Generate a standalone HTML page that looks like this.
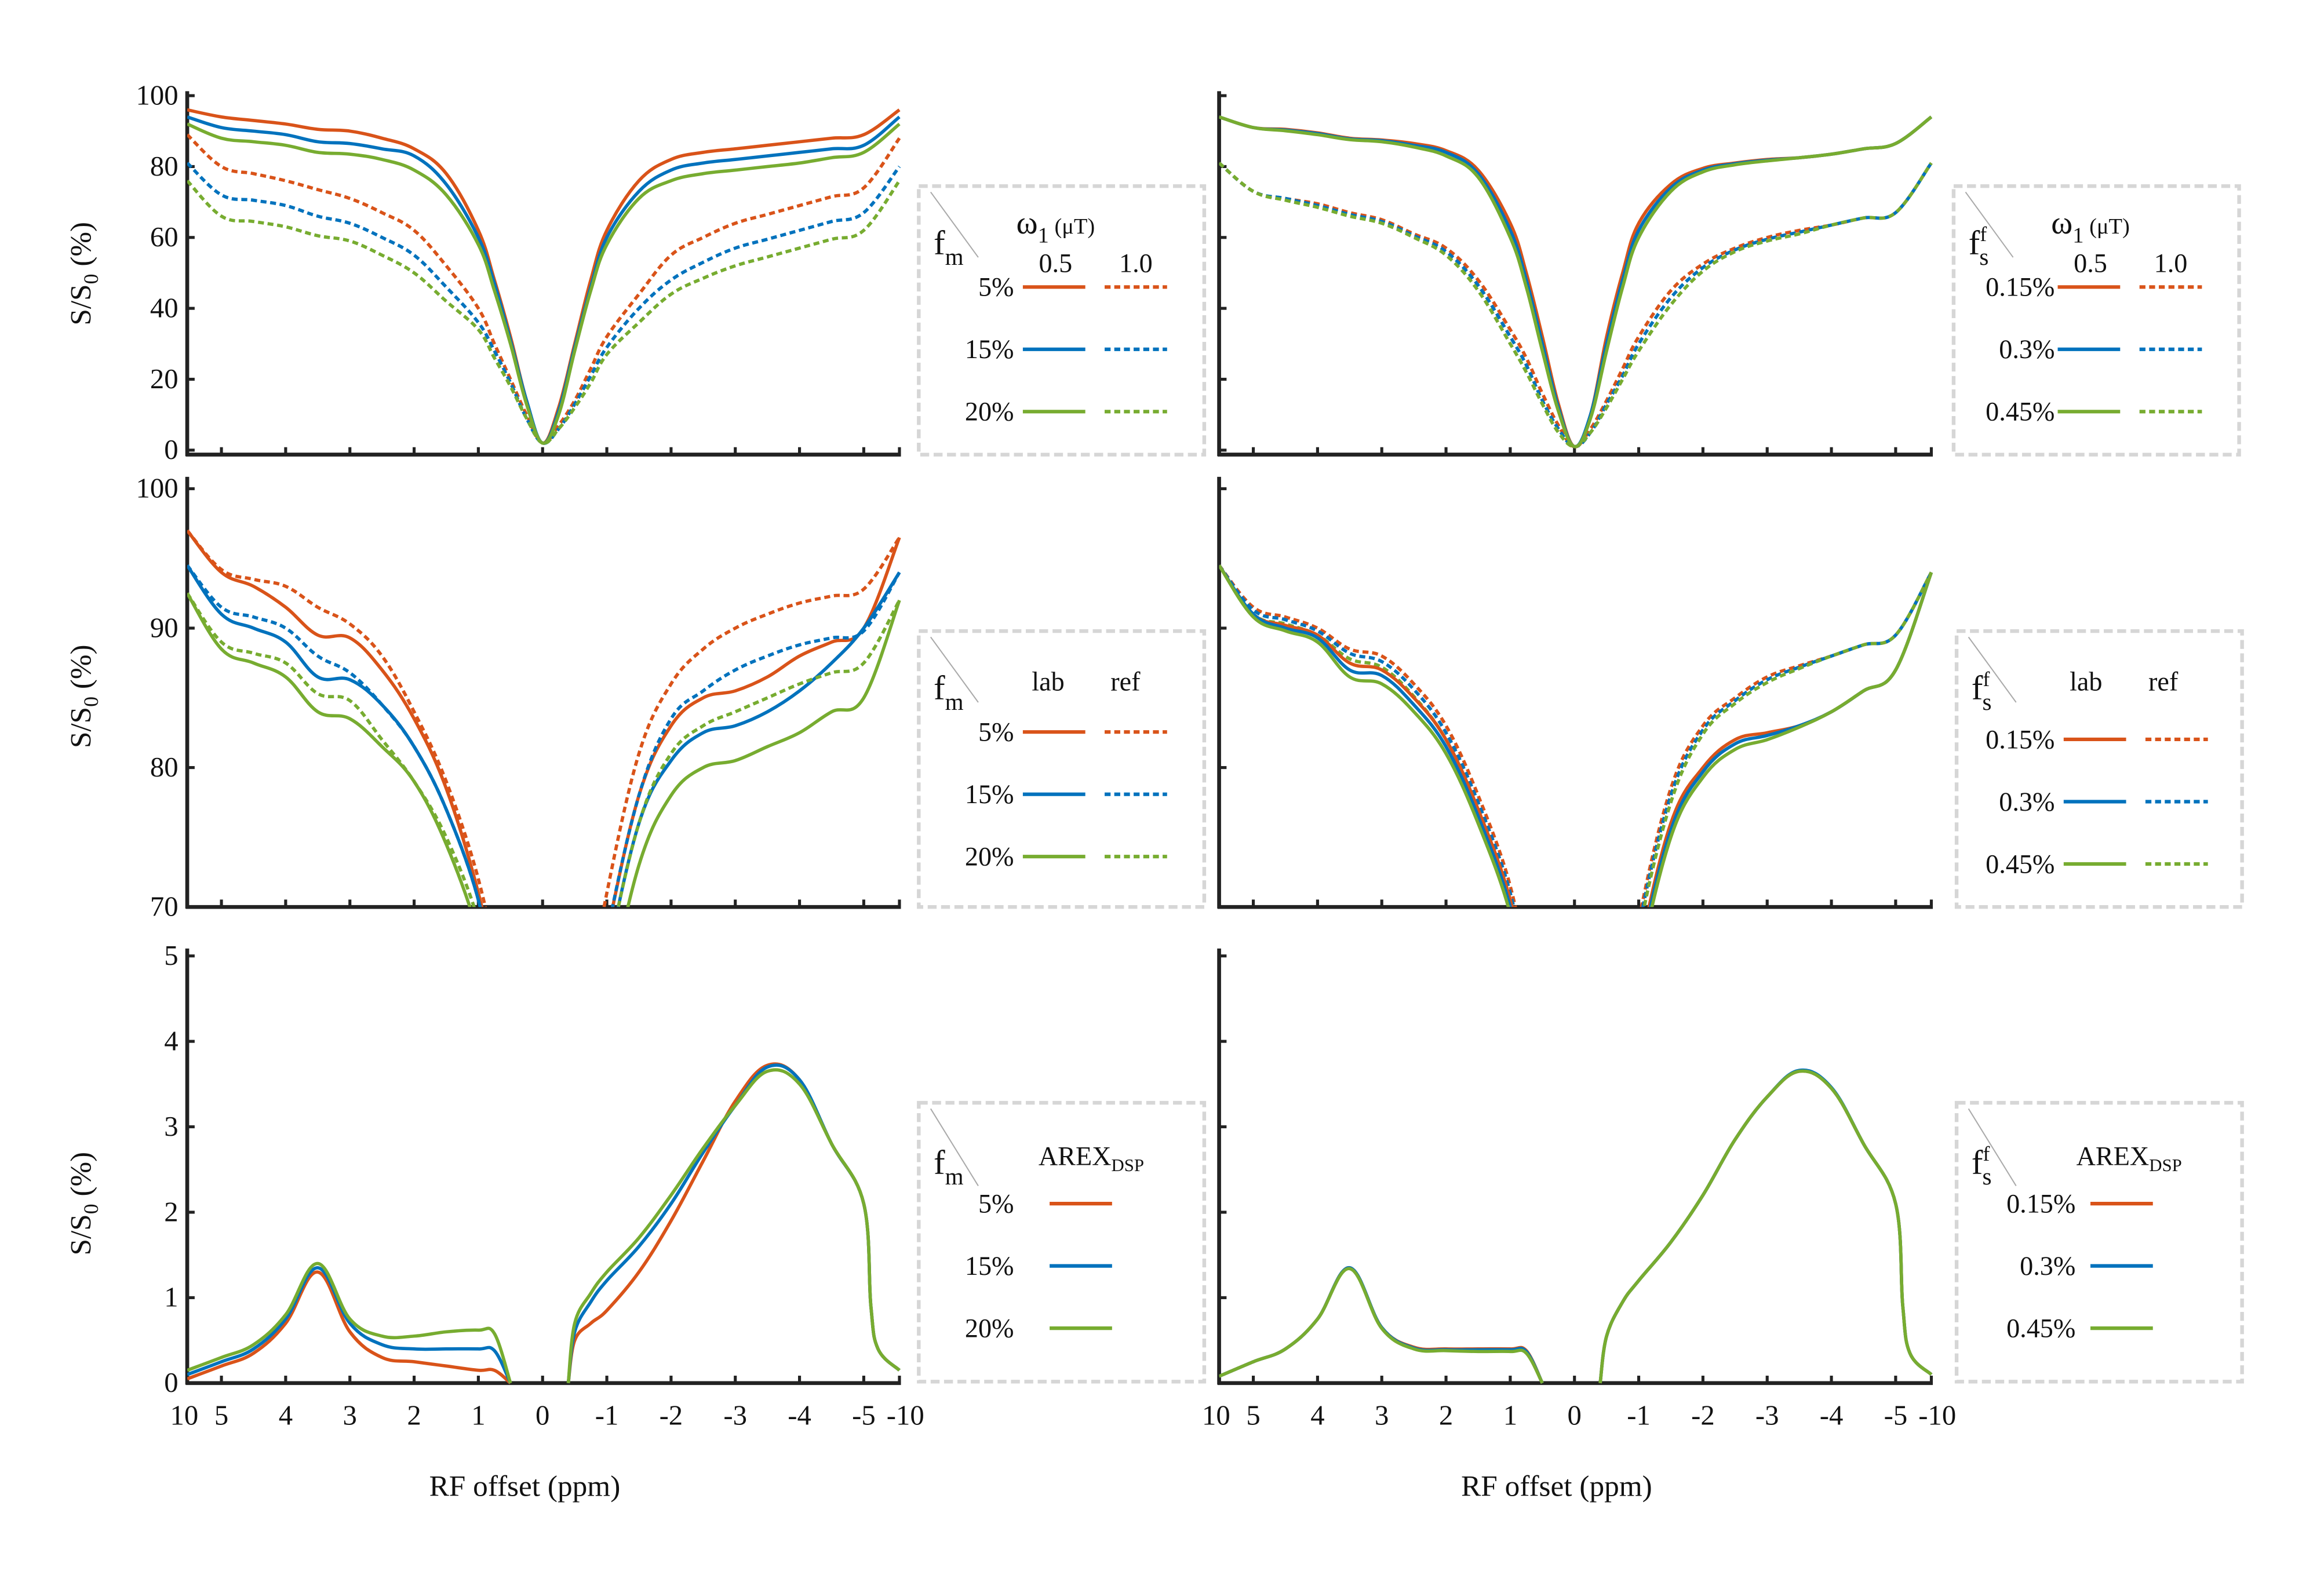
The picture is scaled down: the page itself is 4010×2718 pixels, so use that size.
<!DOCTYPE html>
<html><head><meta charset="utf-8"><style>
html,body{margin:0;padding:0;background:#fff;}
svg{display:block;}
text{font-family:"Liberation Serif",serif;fill:#111;}
</style></head><body>
<svg id="fig" xmlns="http://www.w3.org/2000/svg" width="4010" height="2718" viewBox="0 0 1552 1052">
<defs>
<clipPath id="c0"><rect x="128" y="55" width="480" height="253"/></clipPath>
<clipPath id="c1"><rect x="128" y="322" width="480" height="290"/></clipPath>
<clipPath id="c2"><rect x="128" y="630" width="480" height="304"/></clipPath>
<clipPath id="c3"><rect x="822" y="55" width="480" height="253"/></clipPath>
<clipPath id="c4"><rect x="822" y="322" width="480" height="290"/></clipPath>
<clipPath id="c5"><rect x="822" y="630" width="480" height="304"/></clipPath>
</defs>
<g id="root" transform="translate(-2.1,-0.5) scale(0.993,0.9907)"></g>
</svg>
<script>
const ppm=[10,5,4.5,4,3.5,3,2.5,2,1.5,1,0.75,0.5,0.25,0,-0.25,-0.5,-0.75,-1,-1.5,-2,-2.5,-3,-3.5,-4,-4.5,-5,-10];
const ppmArex=[10,5,4.5,4,3.5,3,2.5,2,1.5,1,0.75,0.5,-0.4,-0.5,-0.75,-1,-1.5,-2,-2.5,-3,-3.5,-4,-4.5,-5,-6,-7,-10];
const xTickVals=[10,5,4,3,2,1,0,-1,-2,-3,-4,-5,-10];
const xTickLabels=["10","5","4","3","2","1","0","-1","-2","-3","-4","-5","-10"];
// top-left
const tlOS=[96,94,93,92,90.5,90,88,85,78,62,48,32,14,2,12,30,48,62,76,82,84,85,86,87,88,89,96];
const tlOD=[89,80,78,76,73.5,71,67,62,52,40,30,20,10,2,7,14,23,32,44,55,60,64,66.5,69,71.5,74,88];
const tlBS=[94,91,90,89,87,86.5,85,83,75,60,47,31,14,2,11,29,46,60,73,79,81,82,83,84,85,86,94];
const tlBD=[81,72,70.5,69,66,64,60,55,46,36,28,19,9,2,6,13,21,29,40,48,53,57,59.5,62,64.5,67,80];
const tlGS=[92,88,87,86,84,83.5,82,79,72,58,45,30,13,2,10,28,45,58,71,76,78,79,80,81,82.5,84,92];
const tlGD=[76,66,64.5,63,60.5,59,55,50,42,34,26,18,9,2,6,12,19,27,36,44,48.5,52,54.5,57,59.5,62,76];
// top-right
const trOS=[94,91,90.5,89.5,88,87.5,86.5,84.5,79,64,50,32,13,1,10,32,50,64,75,79.5,81,82,82.5,83.5,85,86.5,94];
const trBS=[94,91,90.3,89.3,87.8,87.3,86,84,78,62,48,30,12,1,10,30,48,62,74,79,80.8,81.8,82.5,83.5,85,86.5,94];
const trGS=[94,91,90.1,89,87.6,87,85.5,83,77,60,46,28,11,1,9,28,46,60,73,78.5,80.5,81.6,82.5,83.5,85,86.5,94];
const trOD=[81,73,71,69.5,67,65,61,57,48,34,26,16,7,1,6,14,23,32,45,52.5,57,60,62,63.5,65.5,67,81];
const trBD=[81,73,71,69,66.5,64.5,60.5,56,46.5,32,24,14,6,1,5,13,21,30,43,51.5,56.5,59.5,61.5,63.5,65.5,67,81];
const trGD=[81,73,70.5,68.5,66,64,60,55,45,30,22,13,5,1,5,12,20,28,41,50.5,56,59,61,63.5,65.5,67,81];
// middle-left
const mlOS=[97,94,93,91.5,89.5,89.3,87,83.5,78.5,71,65,55,45,40,45,55,62,68,78,83,85,85.5,86.5,88,89,90,96.5];
const mlOD=[97,94.2,93.5,93,91.5,90.3,88,84,79,72,66,56,45,40,45,56,64,71,81,86,88.5,90,91,91.8,92.3,92.8,96.5];
const mlBS=[94.5,91,90,89,86.5,86.3,84.5,81.5,77,70.5,64,54,44,40,44,52,59,66,76,80.5,82.5,83,84,85.5,87.5,90,94];
const mlBD=[94.5,91.5,90.8,90,88,86.8,84.5,81.5,77,70.5,64,54,44,40,44,54,61,68,78,83.5,85.5,87,88,88.8,89.3,89.8,94];
const mlGS=[92.5,88.5,87.5,86.5,84,83.5,81.5,79,74.5,68,62,52,43,40,43,50,57,63,73,78,80,80.5,81.5,82.5,84,85,92];
const mlGD=[92.5,89,88.2,87.5,85.3,84.8,82,79,75,69,63,53,44,40,44,52,59,66,76,81,83,84,85,86,86.8,87.5,92];
// middle-right
const mrOS=[94.5,91,90.2,89.5,87.5,87,85,82,77,70.5,64,54,44,40,44,52,59,66.5,76,80,82,82.5,83,84,85.5,87,94];
const mrBS=[94.5,91,90,89.3,87,86.6,84.5,81.5,76.5,70,63.5,53,44,40,44,51,58,66,75.5,79.7,81.7,82.3,83,84,85.5,87,94];
const mrGS=[94.5,90.8,89.8,89,86.5,86,84,81,76,69.5,63,52,43,40,43,50,57,65.5,75,79.3,81.3,82,82.9,84,85.5,87,94];
const mrOD=[94.5,91.5,90.8,90,88.5,88,86,83,78,71.5,65,55,45,40,45,53,61,69,78.5,83,85,86.5,87.3,88,88.8,89.5,94];
const mrBD=[94.5,91.3,90.6,89.8,88.2,87.6,85.6,82.5,77.5,71,64.5,54,44,40,44,52,60,68.5,78,82.7,84.8,86.3,87.2,88,88.8,89.5,94];
const mrGD=[94.5,91,90.3,89.5,87.8,87.2,85.1,82,77,70.5,64,53,44,40,44,51,59,68,77.5,82.4,84.6,86.1,87.1,88,88.8,89.5,94];
// bottom AREX
const blO=[0.05,0.2,0.35,0.7,1.3,0.6,0.3,0.25,0.2,0.15,0.15,0,0,0.5,0.7,0.85,1.3,1.9,2.6,3.3,3.72,3.55,2.8,2.1,0.9,0.4,0.15];
const blB=[0.1,0.25,0.4,0.75,1.35,0.7,0.45,0.4,0.4,0.4,0.38,0,0,0.6,0.95,1.2,1.6,2.1,2.7,3.25,3.7,3.55,2.8,2.1,0.9,0.4,0.15];
const blG=[0.15,0.3,0.45,0.8,1.4,0.75,0.55,0.55,0.6,0.62,0.58,0,0,0.7,1.05,1.3,1.7,2.2,2.75,3.25,3.65,3.5,2.8,2.1,0.9,0.4,0.15];
const brO=[0.08,0.25,0.4,0.75,1.35,0.65,0.42,0.4,0.4,0.4,0.38,0,0,0.55,0.95,1.2,1.65,2.2,2.85,3.35,3.65,3.45,2.8,2.1,0.9,0.35,0.1];
const brB=[0.08,0.25,0.4,0.75,1.35,0.65,0.41,0.39,0.39,0.39,0.37,0,0,0.55,0.95,1.2,1.65,2.2,2.85,3.35,3.66,3.46,2.8,2.1,0.9,0.35,0.1];
const brG=[0.08,0.25,0.4,0.75,1.34,0.64,0.4,0.38,0.37,0.37,0.35,0,0,0.55,0.95,1.2,1.65,2.2,2.85,3.35,3.65,3.45,2.8,2.1,0.9,0.35,0.1];

const NS='http://www.w3.org/2000/svg';
const root=document.getElementById('root');
const C={o:'#d95319',b:'#0072bd',g:'#77ac30'};
function mk(tag,attrs,parent){const e=document.createElementNS(NS,tag);for(const k in attrs)e.setAttribute(k,attrs[k]);(parent||root).appendChild(e);return e;}
function xScale(p,x0){
  let X;
  if(p>5) X=151-(p-5)/5*23;
  else if(p<-5) X=583+(-5-p)/5*24;
  else X=367-p*43.2;
  return X-128+x0;
}
function yScale(v,vmin,vmax,ytop,ybot){return ybot-(v-vmin)/(vmax-vmin)*(ybot-ytop);}
function smooth(pts){
  let d='M'+pts[0][0].toFixed(2)+','+pts[0][1].toFixed(2);
  for(let i=0;i<pts.length-1;i++){
    const p0=pts[Math.max(0,i-1)],p1=pts[i],p2=pts[i+1],p3=pts[Math.min(pts.length-1,i+2)];
    const t=0.18;
    const c1=[p1[0]+(p2[0]-p0[0])*t,p1[1]+(p2[1]-p0[1])*t];
    const c2=[p2[0]-(p3[0]-p1[0])*t,p2[1]-(p3[1]-p1[1])*t];
    d+=' C'+c1[0].toFixed(2)+','+c1[1].toFixed(2)+' '+c2[0].toFixed(2)+','+c2[1].toFixed(2)+' '+p2[0].toFixed(2)+','+p2[1].toFixed(2);
  }
  return d;
}
const panels=[
 {x0:128,ytop:62,ybot:307,vmin:0,vmax:100,yt0:304,yt1:65,ticks:[0,20,40,60,80,100],lab:true,clip:'c0',name:'top-left'},
 {x0:128,ytop:322,ybot:612,vmin:70,vmax:100,yt0:612,yt1:330,ticks:[70,80,90,100],lab:true,clip:'c1',name:'middle-left'},
 {x0:128,ytop:640,ybot:933,vmin:0,vmax:5,yt0:933,yt1:645,ticks:[0,1,2,3,4,5],lab:true,clip:'c2',name:'bottom-left'},
 {x0:822,ytop:62,ybot:307,vmin:0,vmax:100,yt0:304,yt1:65,ticks:[0,20,40,60,80,100],lab:false,clip:'c3',name:'top-right'},
 {x0:822,ytop:322,ybot:612,vmin:70,vmax:100,yt0:612,yt1:330,ticks:[70,80,90,100],lab:false,clip:'c4',name:'middle-right'},
 {x0:822,ytop:640,ybot:933,vmin:0,vmax:5,yt0:933,yt1:645,ticks:[0,1,2,3,4,5],lab:false,clip:'c5',name:'bottom-right'}
];
function vy(P,v){return yScale(v,P.vmin,P.vmax,P.yt1,P.yt0);}
function series(P,xs,vals,color,dash,name){
  const g=mk('g',{'clip-path':'url(#'+P.clip+')'});
  let segs=[[]];
  for(let i=0;i<xs.length;i++){
    if(i>0 && xs===ppmArex && xs[i-1]>0 && xs[i]<0) segs.push([]);
    segs[segs.length-1].push([xScale(xs[i],P.x0),vy(P,vals[i])]);
  }
  segs.forEach(s=>{
    const e=mk('path',{d:smooth(s),fill:'none',stroke:color,'stroke-width':2.2,'stroke-dasharray':dash?'4,2.5':'none'},g);
    
    
  });
}
panels.forEach(P=>{
  const g=mk('g',{});
  
  
  mk('line',{x1:P.x0,y1:P.ytop,x2:P.x0,y2:P.ybot+1,stroke:'#222','stroke-width':2.6},g);
  mk('line',{x1:P.x0-1,y1:P.ybot,x2:P.x0+480,y2:P.ybot,stroke:'#222','stroke-width':2.6},g);
  P.ticks.forEach(t=>{
    const y=vy(P,t);
    mk('line',{x1:P.x0,y1:y,x2:P.x0+5,y2:y,stroke:'#222','stroke-width':2},g);
    if(P.lab){const tx=mk('text',{x:P.x0-6,y:y+6,'font-size':19,'text-anchor':'end'},g);tx.textContent=String(t);
      }
  });
  xTickVals.forEach(p=>{
    const x=xScale(p,P.x0);
    mk('line',{x1:x,y1:P.ybot,x2:x,y2:P.ybot-5,stroke:'#222','stroke-width':2},g);
  });
});
[128,822].forEach(x0=>{
  xTickVals.forEach((p,i)=>{
    const t=mk('text',{x:xScale(p,x0)+(p===10?-2:(p===-10?4:0)),y:961,'font-size':19,'text-anchor':'middle'});
    t.textContent=xTickLabels[i];
    
    
  });
  const xl=mk('text',{x:x0+227,y:1009,'font-size':20,'text-anchor':'middle'});
  xl.textContent='RF offset (ppm)';
  
  
});
[[185],[470],[812]].forEach(([cy])=>{
  const t=mk('text',{x:0,y:0,'font-size':20,'text-anchor':'middle',transform:'translate(63,'+cy+') rotate(-90)'});
  t.innerHTML='S/S<tspan font-size="14" dy="5">0</tspan><tspan dy="-5"> (%)</tspan>';
  
  
});
const P=panels;
series(P[0],ppm,tlOS,C.o,false,'line-5pct-0.5');series(P[0],ppm,tlOD,C.o,true,'line-5pct-1.0');
series(P[0],ppm,tlBS,C.b,false,'line-15pct-0.5');series(P[0],ppm,tlBD,C.b,true,'line-15pct-1.0');
series(P[0],ppm,tlGS,C.g,false,'line-20pct-0.5');series(P[0],ppm,tlGD,C.g,true,'line-20pct-1.0');
series(P[3],ppm,trOD,C.o,true,'line-0.15pct-1.0');series(P[3],ppm,trBD,C.b,true,'line-0.3pct-1.0');series(P[3],ppm,trGD,C.g,true,'line-0.45pct-1.0');
series(P[3],ppm,trOS,C.o,false,'line-0.15pct-0.5');series(P[3],ppm,trBS,C.b,false,'line-0.3pct-0.5');series(P[3],ppm,trGS,C.g,false,'line-0.45pct-0.5');
series(P[1],ppm,mlOS,C.o,false,'line-5pct-lab');series(P[1],ppm,mlOD,C.o,true,'line-5pct-ref');
series(P[1],ppm,mlBS,C.b,false,'line-15pct-lab');series(P[1],ppm,mlBD,C.b,true,'line-15pct-ref');
series(P[1],ppm,mlGS,C.g,false,'line-20pct-lab');series(P[1],ppm,mlGD,C.g,true,'line-20pct-ref');
series(P[4],ppm,mrOD,C.o,true,'line-0.15pct-ref');series(P[4],ppm,mrBD,C.b,true,'line-0.3pct-ref');series(P[4],ppm,mrGD,C.g,true,'line-0.45pct-ref');
series(P[4],ppm,mrOS,C.o,false,'line-0.15pct-lab');series(P[4],ppm,mrBS,C.b,false,'line-0.3pct-lab');series(P[4],ppm,mrGS,C.g,false,'line-0.45pct-lab');
series(P[2],ppmArex,blO,C.o,false,'arex-5pct');series(P[2],ppmArex,blB,C.b,false,'arex-15pct');series(P[2],ppmArex,blG,C.g,false,'arex-20pct');
series(P[5],ppmArex,brO,C.o,false,'arex-0.15pct');series(P[5],ppmArex,brB,C.b,false,'arex-0.3pct');series(P[5],ppmArex,brG,C.g,false,'arex-0.45pct');

function legend(bx,by,bh,kind,rows,labels,colH,dashCol,rowYs,name){
  const g=mk('g',{});
  
  
  mk('rect',{x:bx,y:by,width:192,height:bh,fill:'none',stroke:'#d6d6d6','stroke-width':2.5,'stroke-dasharray':'6,3'},g);
  mk('line',{x1:bx+8,y1:by+4,x2:bx+40,y2:by+(kind==='arex'?56:48),stroke:'#aaa','stroke-width':0.8},g);
  const f=mk('text',{x:bx+10,y:by+(kind==='arex'?48:46),'font-size':23},g);
  f.innerHTML=labels.f;
  colH.forEach(c=>{const t=mk('text',{x:bx+c.x,y:by+c.y,'font-size':c.fs||18,'text-anchor':'middle'},g);t.innerHTML=c.t;});
  rows.forEach((r,i)=>{
    const y=rowYs[i];
    const t=mk('text',{x:bx+r.lx,y:y+6,'font-size':18,'text-anchor':'end'},g);t.textContent=r.t;
    mk('line',{x1:bx+r.s1,y1:y,x2:bx+r.s1+42,y2:y,stroke:r.c,'stroke-width':2.4},g);
    if(dashCol) mk('line',{x1:bx+r.s1+55,y1:y,x2:bx+r.s1+97,y2:y,stroke:r.c,'stroke-width':2.4,'stroke-dasharray':'4,2.5'},g);
  });
}
const fm='f<tspan font-size="16" dy="7">m</tspan>';
const fs='f<tspan font-size="14" dy="-9">f</tspan><tspan font-size="16" dy="16" dx="-5">s</tspan>';
const w1=[{x:92,y:32,t:'ω<tspan font-size="15" dy="6">1</tspan><tspan font-size="15" dy="-6"> (μT)</tspan>',fs:22},{x:92,y:58,t:'0.5'},{x:146,y:58,t:'1.0'}];
legend(620,126,181,'w',[{t:'5%',lx:64,s1:70,c:C.o},{t:'15%',lx:64,s1:70,c:C.b},{t:'20%',lx:64,s1:70,c:C.g}],{f:fm},w1,true,[194,236,278],'legend-top-left');
legend(1316,126,181,'w',[{t:'0.15%',lx:68,s1:70,c:C.o},{t:'0.3%',lx:68,s1:70,c:C.b},{t:'0.45%',lx:68,s1:70,c:C.g}],{f:fs},w1,true,[194,236,278],'legend-top-right');
const lr=[{x:87,y:40,t:'lab'},{x:139,y:40,t:'ref'}];
legend(620,426,186,'w',[{t:'5%',lx:64,s1:70,c:C.o},{t:'15%',lx:64,s1:70,c:C.b},{t:'20%',lx:64,s1:70,c:C.g}],{f:fm},lr,true,[494,536,578],'legend-middle-left');
legend(1318,426,186,'w',[{t:'0.15%',lx:66,s1:72,c:C.o},{t:'0.3%',lx:66,s1:72,c:C.b},{t:'0.45%',lx:66,s1:72,c:C.g}],{f:fs},[{x:87,y:40,t:'lab'},{x:139,y:40,t:'ref'}],true,[499,541,583],'legend-middle-right');
const ar=[{x:116,y:42,t:'AREX<tspan font-size="12" dy="4">DSP</tspan>'}];
legend(620,744,188,'arex',[{t:'5%',lx:64,s1:88,c:C.o},{t:'15%',lx:64,s1:88,c:C.b},{t:'20%',lx:64,s1:88,c:C.g}],{f:fm},ar,false,[812,854,896],'legend-bottom-left');
legend(1318,744,188,'arex',[{t:'0.15%',lx:80,s1:90,c:C.o},{t:'0.3%',lx:80,s1:90,c:C.b},{t:'0.45%',lx:80,s1:90,c:C.g}],{f:fs},ar,false,[812,854,896],'legend-bottom-right');
</script>
</body></html>
